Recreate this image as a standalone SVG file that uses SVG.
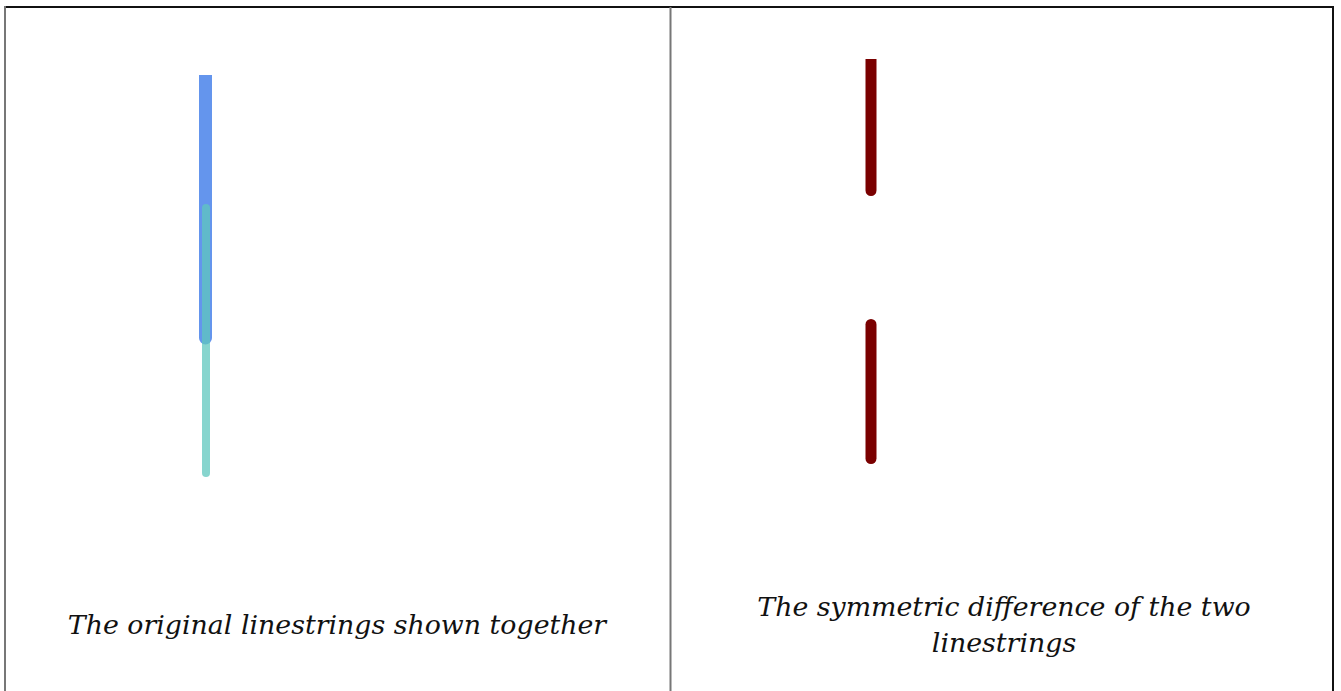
<svg xmlns="http://www.w3.org/2000/svg" width="1341" height="691" viewBox="0 0 1341 691">
<style>
.cap{font-family:"DejaVu Serif",serif;font-style:italic;font-size:26.8px;fill:#111;text-anchor:middle}
.dark{stroke:#111;stroke-width:2}
.gray{stroke:#777;stroke-width:2}
</style>
<rect width="1341" height="691" fill="#fff"/>
<g id="frame">
<line class="dark" x1="4" y1="7" x2="1334" y2="7"/>
<line class="gray" x1="5" y1="6" x2="5" y2="691"/>
<line class="gray" x1="670.5" y1="7" x2="670.5" y2="691"/>
<line class="dark" x1="1333" y1="6" x2="1333" y2="691"/>
</g>
<g id="left-panel">
<path id="blue-line" d="M199 75 V338 A6.5 6.5 0 0 0 212 338 V75 Z" fill="#6495ED"/>
<line id="green-line" x1="206" y1="208" x2="206" y2="473" stroke="#5fc7bd" stroke-opacity="0.75" stroke-width="8" stroke-linecap="round"/>
<text class="cap" x="337" y="634">The original linestrings shown together</text>
</g>
<g id="right-panel">
<path id="red-seg-1" d="M865.5 59 V190.5 A5.5 5.5 0 0 0 876.5 190.5 V59 Z" fill="#7a0000"/>
<line id="red-seg-2" x1="871" y1="324.5" x2="871" y2="458.5" stroke="#7a0000" stroke-width="11" stroke-linecap="round"/>
<text class="cap" x="1004" y="616">The symmetric difference of the two</text>
<text class="cap" x="1004" y="652">linestrings</text>
</g>
</svg>
